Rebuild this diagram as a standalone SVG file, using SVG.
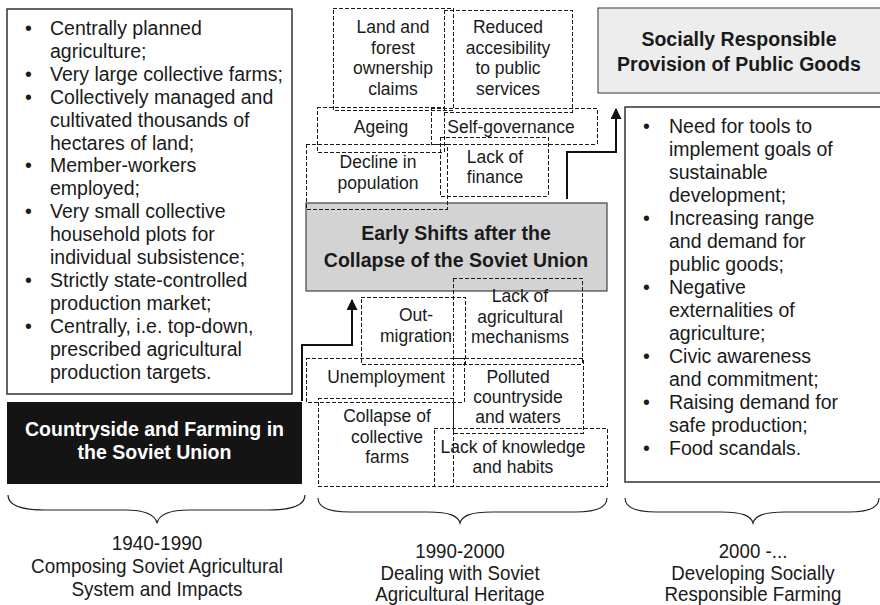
<svg xmlns="http://www.w3.org/2000/svg" width="880" height="605" viewBox="0 0 880 605">
  <defs>
    <marker id="arrow" viewBox="0 0 10 10" refX="9" refY="5" markerWidth="5.5" markerHeight="5.5" markerUnits="strokeWidth" orient="auto">
      <path d="M0,0 L10,5 L0,10 z" fill="#111"/>
    </marker>
  </defs>
  <style>
    text { font-family: "Liberation Sans", Arial, sans-serif; fill: #1a1a1a; }
    .list { font-size: 19.5px; }
    .small { font-size: 17.5px; text-anchor: middle; }
    .head { font-size: 19.5px; font-weight: bold; text-anchor: middle; }
    .period { font-size: 21px; text-anchor: middle; }
    .period-tight { font-size: 19.5px; text-anchor: middle; }
    .box { fill: #fff; stroke: #333; stroke-width: 1.5; }
    .dash { fill: none; stroke: #1a1a1a; stroke-width: 1; stroke-dasharray: 4 2; shape-rendering: crispEdges; }
    .conn { fill: none; stroke: #111; stroke-width: 2; }
    .brace { fill: none; stroke: #222; stroke-width: 1.2; }
  </style>

  <!-- Soviet period: characteristics list -->
  <g id="soviet-list">
    <rect class="box" x="7" y="9" width="285" height="385"/>
    <g class="list">
      <text x="25" y="35">•</text><text x="50" y="35">Centrally planned</text>
      <text x="50" y="57.9">agriculture;</text>
      <text x="25" y="80.8">•</text><text x="50" y="80.8">Very large collective farms;</text>
      <text x="25" y="103.7">•</text><text x="50" y="103.7">Collectively managed and</text>
      <text x="50" y="126.6">cultivated thousands of</text>
      <text x="50" y="149.5">hectares of land;</text>
      <text x="25" y="172.4">•</text><text x="50" y="172.4">Member-workers</text>
      <text x="50" y="195.3">employed;</text>
      <text x="25" y="218.2">•</text><text x="50" y="218.2">Very small collective</text>
      <text x="50" y="241.1">household plots for</text>
      <text x="50" y="264">individual subsistence;</text>
      <text x="25" y="286.9">•</text><text x="50" y="286.9">Strictly state-controlled</text>
      <text x="50" y="309.8">production market;</text>
      <text x="25" y="332.7">•</text><text x="50" y="332.7">Centrally, i.e. top-down,</text>
      <text x="50" y="355.6">prescribed agricultural</text>
      <text x="50" y="378.5">production targets.</text>
    </g>
  </g>

  <!-- Soviet period: title -->
  <g id="soviet-title">
    <rect x="7" y="402" width="295" height="82" fill="#141414"/>
    <text class="head" x="154.5" y="436" style="fill:#fff">Countryside and Farming in</text>
    <text class="head" x="154.5" y="459" style="fill:#fff">the Soviet Union</text>
  </g>

  <!-- Transition period: title -->
  <g id="early-shifts">
    <rect x="306" y="203" width="301" height="88" fill="#d3d3d3" stroke="#444" stroke-width="1.2"/>
    <text class="head" x="456" y="240">Early Shifts after the</text>
    <text class="head" x="456" y="267">Collapse of the Soviet Union</text>
  </g>

  <!-- Transition period: issues above -->
  <g id="land-claims">
    <rect class="dash" x="333" y="8" width="120" height="102"/>
    <text class="small" x="393" y="33">Land and</text>
    <text class="small" x="393" y="53.5">forest</text>
    <text class="small" x="393" y="74">ownership</text>
    <text class="small" x="393" y="94.5">claims</text>
  </g>
  <g id="public-services">
    <rect class="dash" x="444" y="10" width="128" height="102"/>
    <text class="small" x="508" y="33">Reduced</text>
    <text class="small" x="508" y="53.5">accesibility</text>
    <text class="small" x="508" y="74">to public</text>
    <text class="small" x="508" y="94.5">services</text>
  </g>
  <g id="ageing">
    <rect class="dash" x="317" y="107" width="127" height="45"/>
    <text class="small" x="381" y="133">Ageing</text>
  </g>
  <g id="self-governance">
    <rect class="dash" x="431" y="108" width="166" height="36"/>
    <text class="small" x="511" y="133">Self-governance</text>
  </g>
  <g id="population">
    <rect class="dash" x="306" y="144" width="141" height="65"/>
    <text class="small" x="378" y="168">Decline in</text>
    <text class="small" x="378" y="189">population</text>
  </g>
  <g id="finance">
    <rect class="dash" x="440" y="137" width="108" height="59"/>
    <text class="small" x="495" y="163">Lack of</text>
    <text class="small" x="495" y="183">finance</text>
  </g>

  <!-- Transition period: issues below -->
  <g id="out-migration">
    <rect class="dash" x="361" y="297" width="104" height="67"/>
    <text class="small" x="416" y="321">Out-</text>
    <text class="small" x="416" y="342">migration</text>
  </g>
  <g id="mechanisms">
    <rect class="dash" x="453" y="278" width="129" height="86"/>
    <text class="small" x="520" y="302">Lack of</text>
    <text class="small" x="520" y="322.5">agricultural</text>
    <text class="small" x="520" y="343">mechanisms</text>
  </g>
  <g id="unemployment">
    <rect class="dash" x="306" y="358" width="158" height="44"/>
    <text class="small" x="386" y="383">Unemployment</text>
  </g>
  <g id="pollution">
    <rect class="dash" x="453" y="358" width="130" height="75"/>
    <text class="small" x="518" y="383">Polluted</text>
    <text class="small" x="518" y="403">countryside</text>
    <text class="small" x="518" y="423">and waters</text>
  </g>
  <g id="collective-farms">
    <rect class="dash" x="318" y="398" width="135" height="88"/>
    <text class="small" x="387" y="422">Collapse of</text>
    <text class="small" x="387" y="443">collective</text>
    <text class="small" x="387" y="463">farms</text>
  </g>
  <g id="knowledge">
    <rect class="dash" x="434" y="428" width="173" height="58"/>
    <text class="small" x="513" y="453">Lack of knowledge</text>
    <text class="small" x="513" y="473">and habits</text>
  </g>

  <!-- Present period: title -->
  <g id="public-goods">
    <rect x="598" y="8" width="290" height="85" fill="#ededed" stroke="#555" stroke-width="1.2"/>
    <text class="head" x="739" y="46">Socially Responsible</text>
    <text class="head" x="739" y="71">Provision of Public Goods</text>
  </g>

  <!-- Present period: drivers list -->
  <g id="drivers-list">
    <rect class="box" x="625" y="107" width="265" height="375"/>
    <g class="list">
      <text x="643" y="133">•</text><text x="669" y="133">Need for tools to</text>
      <text x="669" y="156">implement goals of</text>
      <text x="669" y="179">sustainable</text>
      <text x="669" y="202">development;</text>
      <text x="643" y="225">•</text><text x="669" y="225">Increasing range</text>
      <text x="669" y="248">and demand for</text>
      <text x="669" y="271">public goods;</text>
      <text x="643" y="294">•</text><text x="669" y="294">Negative</text>
      <text x="669" y="317">externalities of</text>
      <text x="669" y="340">agriculture;</text>
      <text x="643" y="363">•</text><text x="669" y="363">Civic awareness</text>
      <text x="669" y="386">and commitment;</text>
      <text x="643" y="409">•</text><text x="669" y="409">Raising demand for</text>
      <text x="669" y="432">safe production;</text>
      <text x="643" y="455">•</text><text x="669" y="455">Food scandals.</text>
    </g>
  </g>

  <!-- Connectors between periods -->
  <g id="connectors">
    <path class="conn" d="M302,401 V345 H352 V300" marker-end="url(#arrow)"/>
    <path class="conn" d="M567,199 V152 H616 V109" marker-end="url(#arrow)"/>
  </g>

  <!-- Timeline braces and period captions (captions set slightly condensed) -->
  <g id="period-1">
    <path class="brace" d="M8,495 C8,505 20,510 45,510 L125,510 C147,510 155,515 157,523 C159,515 167,510 189,510 L268,510 C293,510 305,505 305,495"/>
    <text class="period" transform="translate(157,550) scale(0.9,1)">1940-1990</text>
    <text class="period" transform="translate(157,573) scale(0.9,1)">Composing Soviet Agricultural</text>
    <text class="period" transform="translate(157,596) scale(0.9,1)">System and Impacts</text>
  </g>
  <g id="period-2">
    <path class="brace" d="M318,498 C318,507 328,512 350,512 L428,512 C450,512 458,516 460,523 C462,516 470,512 492,512 L575,512 C597,512 607,507 607,498"/>
    <text class="period-tight" transform="translate(460,558) scale(0.96,1)">1990-2000</text>
    <text class="period-tight" transform="translate(460,580) scale(0.96,1)">Dealing with Soviet</text>
    <text class="period-tight" transform="translate(460,601) scale(0.96,1)">Agricultural Heritage</text>
  </g>
  <g id="period-3">
    <path class="brace" d="M625,498 C625,507 635,512 657,512 L721,512 C743,512 751,516 753,523 C755,516 763,512 785,512 L849,512 C871,512 879,507 879,498"/>
    <text class="period-tight" transform="translate(753,558) scale(0.96,1)">2000 -...</text>
    <text class="period-tight" transform="translate(753,580) scale(0.96,1)">Developing Socially</text>
    <text class="period-tight" transform="translate(753,601) scale(0.96,1)">Responsible Farming</text>
  </g>
</svg>
